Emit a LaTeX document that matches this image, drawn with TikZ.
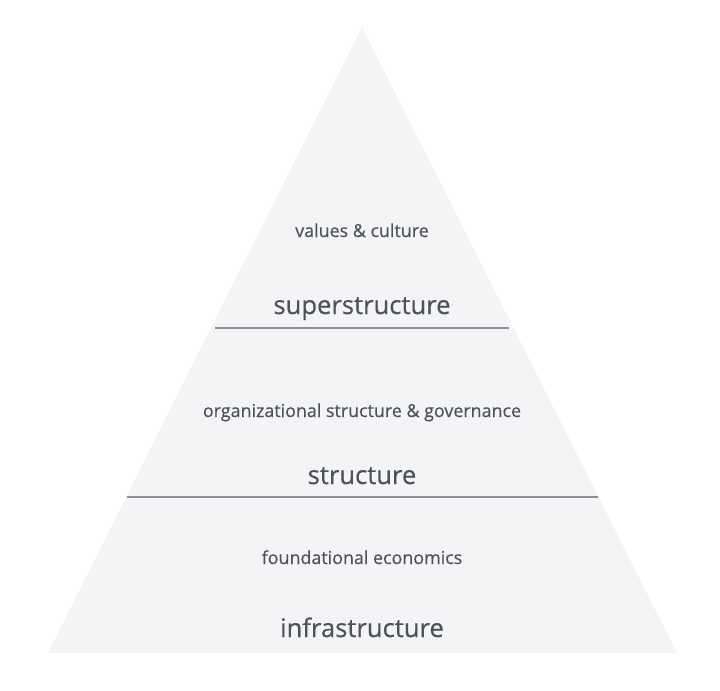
\documentclass[tikz,border=0pt]{standalone}
\usepackage{fontspec}
\setmainfont{Open Sans}[FakeBold=0.4]
\usepackage{tikz}
\usetikzlibrary{positioning,calc}
\definecolor{pyrfill}{HTML}{F4F4F6}
\definecolor{pyrtext}{HTML}{4A535C}
\definecolor{pyrline}{HTML}{8C9197}

\begin{document}
\begin{tikzpicture}[
  x=0.75pt, y=-0.75pt,
  small/.style={text=pyrtext, font=\fontsize{13.4}{15}\selectfont, inner sep=0pt, anchor=base},
  big/.style={text=pyrtext, font=\fontsize{19.2}{21}\selectfont, inner sep=0pt, anchor=base},
  divider/.style={draw=pyrline, line width=0.9pt},
]

\def\cx{362}

% canvas
\useasboundingbox (0,0) rectangle (720,690);

% pyramid
\coordinate (apex) at (\cx,27);
\coordinate (bl) at (48,653);
\coordinate (br) at (677,653);
\fill[pyrfill] (apex) -- (br) -- (bl) -- cycle;

% dividers
\coordinate (d1l) at (215,328); \coordinate (d1r) at (509,328);
\coordinate (d2l) at (127,497); \coordinate (d2r) at (598,497);
\draw[divider] (d1l) -- (d1r);
\draw[divider] (d2l) -- (d2r);

% top tier
\node[small] (culture) at (\cx,237) {values \& culture};
\node[big] (super) at (\cx,314) {superstructure};

% middle tier
\node[small] (gov) at (\cx,417) {organizational structure \& governance};
\node[big] (struct) at (\cx,484) {structure};

% bottom tier
\node[small] (econ) at (\cx,564) {foundational economics};
\node[big] (infra) at (\cx,637) {infrastructure};

\end{tikzpicture}
\end{document}
